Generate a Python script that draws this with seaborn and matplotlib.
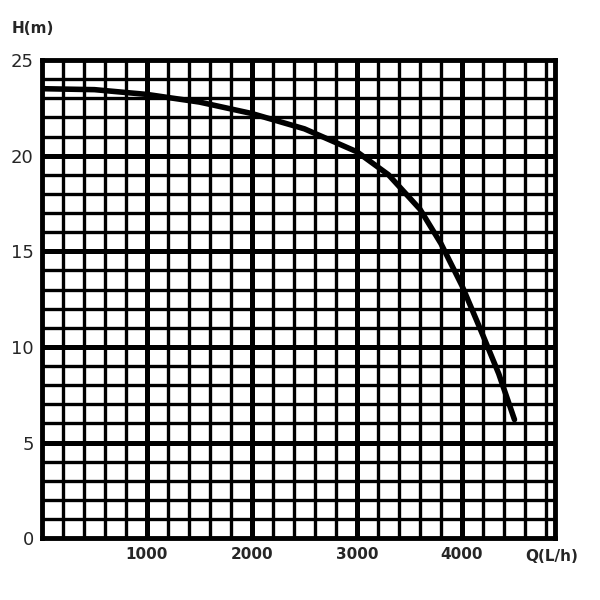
import matplotlib
matplotlib.use("Agg")
import matplotlib.pyplot as plt
import seaborn as sns
import numpy as np

flow = [0, 500, 1000, 1500, 2000, 2500, 3000, 3300, 3600, 3800, 4000, 4200, 4350, 4500]
head = [23.5, 23.45, 23.2, 22.8, 22.2, 21.4, 20.2, 19.0, 17.2, 15.4, 13.2, 10.6, 8.6, 6.2]
xticks = [1000, 2000, 3000, 4000]
yticks = [0, 5, 10, 15, 20, 25]

sns.set_theme(style="white")
fig = plt.figure(figsize=(6, 6), dpi=100)
ax = fig.add_axes([0.07, 0.103, 0.855, 0.797])
ax.set_xlim(0, 4886)
ax.set_ylim(0, 25)
for x in np.arange(200, 4886, 200):
    ax.axvline(x, color="black", lw=3.6 if x % 1000 == 0 else 2.4, zorder=1)
for y in range(1, 25):
    ax.axhline(y, color="black", lw=3.6 if y % 5 == 0 else 2.4, zorder=1)
sns.lineplot(x=flow, y=head, ax=ax, color="black", lw=4, zorder=3)
for s in ax.spines.values():
    s.set_linewidth(3.5); s.set_color("black")
ax.set_xticks(xticks)
ax.set_xticklabels([str(t) for t in xticks], fontweight="bold", fontsize=11)
ax.set_yticks(yticks)
ax.set_yticklabels([str(t) for t in yticks], fontsize=13)
ax.tick_params(length=0, pad=6)
ax.set_xlabel(""); ax.set_ylabel("")
fig.text(0.02, 0.945, "H(m)", fontsize=11, fontweight="bold")
fig.text(0.875, 0.065, "Q(L/h)", fontsize=11, fontweight="bold")
fig.savefig("out.png", dpi=100)
